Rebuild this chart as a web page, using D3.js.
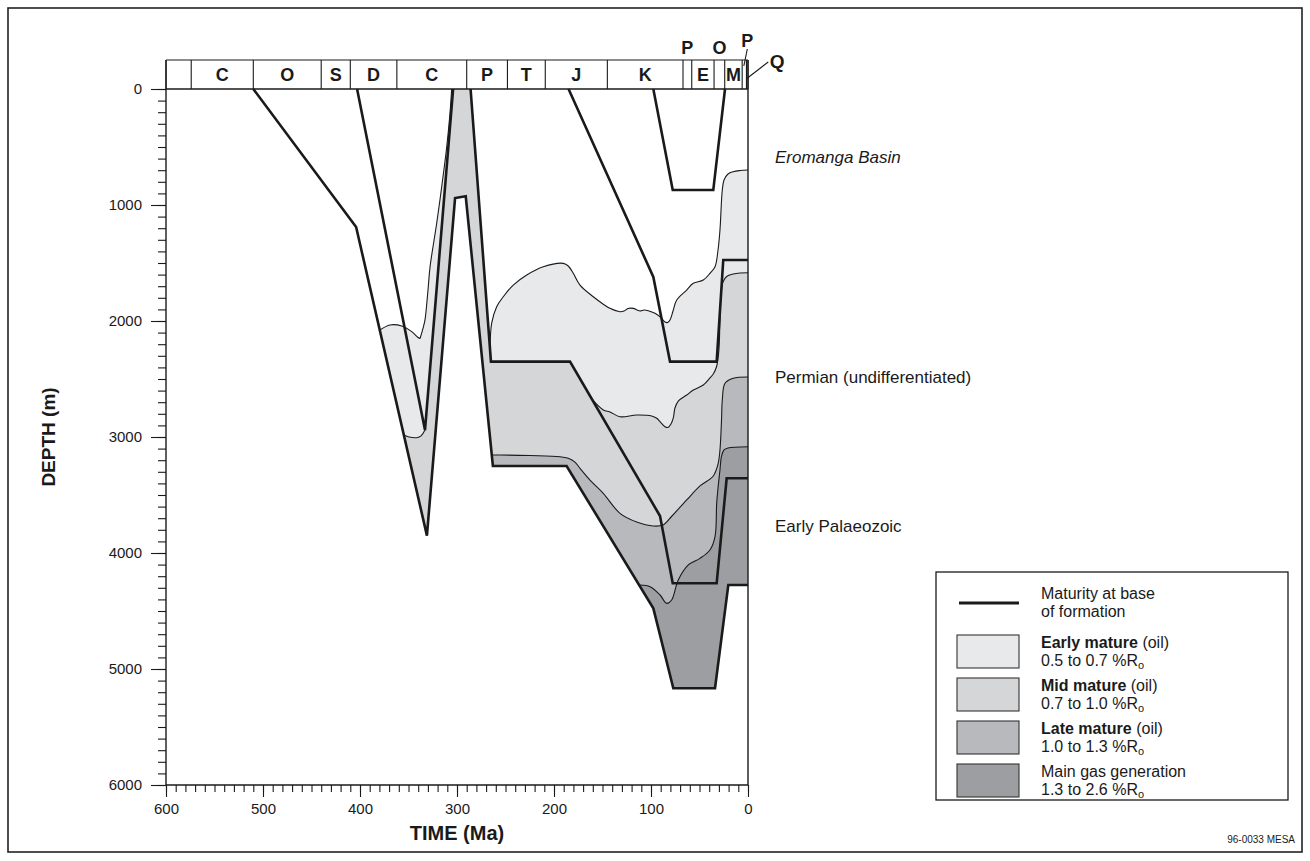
<!DOCTYPE html>
<html><head><meta charset="utf-8">
<script src="https://cdn.jsdelivr.net/npm/d3@7"></script>
<style>
body{margin:0;background:#fff}
svg{display:block}
text{font-family:"Liberation Sans",Arial,Helvetica,sans-serif;fill:#1a1a1a}
</style>
</head><body>
<svg id="c" width="1310" height="861"></svg>
<script>
// ---------------- DATA ----------------
// Geological time scale (Ma) boundaries and labels
const periodBounds = [600,574,510,440,410,362,290,248,209,145,67,58,35,24,6,1.6,0];
const periodInBox  = ["","C","O","S","D","C","P","T","J","K","","E","","M","",""];
const periodAbove  = [[10,"P"],[12,"O"],[14,"P"],[15,"Q"]];

// Axis ticks
const xMajorTicks = [600,500,400,300,200,100,0];
const xMinorTicks = d3.range(0,601,10);
const yMajorTicks = [0,1000,2000,3000,4000,5000,6000];
const yMinorTicks = d3.range(0,6001,100);

// Burial curves: [time Ma, depth m] - thick lines "maturity at base of formation"
const earlyPalaeozoicBase = [[510,0],[404,1190],[331,3850],[302,940],[291,925],[263,3250],[187,3250],[97.6,4477],[77,5166],[34,5166],[20.3,4276],[0,4276]];
const devonianBase = [[403,0],[333,2940],[304,0]];
const permianBase  = [[286,0],[265,2350],[183.5,2350],[90.7,3681],[77.6,4261],[32.3,4261],[22,3356],[0,3356]];
const eromangaBase = [[185,0],[97.6,1620],[80.4,2350],[32.3,2350],[25.5,1474],[0,1474]];
const cretaceousUnit = [[97.6,0],[77.6,871],[35.8,871],[23.7,0]];

// Maturity isolines (%Ro) [time Ma, depth m]
const iso05TroughA = [[379.6,2078],[369,2034],[357,2043],[346.7,2092],[340.5,2140],[338.1,2151]];
const iso05TroughB = [[338.1,2151],[334.7,2052],[333,1991],[329.9,1733],[327.8,1534],[320.9,1155],[315.8,845],[310.6,500],[307.2,207],[305.5,0]];
const iso07Trough  = [[354.8,2983],[349.5,3000],[341.5,3006],[337,2990],[333,2940]];
const iso05Basin = [[266,2250],[264.2,2017],[259.1,1877],[252.3,1791],[242,1690],[228.1,1603],[211,1532],[190.4,1503],[185.3,1526],[180.1,1589],[173.2,1690],[159.5,1791],[149.5,1853],[142.3,1891],[132,1920],[127.8,1914],[123.7,1892],[118.2,1891],[114.4,1905],[111.3,1914],[107.2,1905],[102.8,1911],[95.9,1934],[89,1977],[85.6,2009],[83,2013],[80.4,1991],[77.3,1914],[73.5,1819],[63.2,1733],[56.4,1675],[46.1,1647],[39.2,1589],[34,1532],[30.9,1388],[28.9,1216],[26.5,871],[24.7,784],[20.6,733],[15.2,713],[8.2,703],[0,698]];
const iso07Basin = [[161.1,2672],[149.2,2767],[142.3,2784],[132,2825],[114.7,2810],[99.3,2819],[94.1,2839],[90.7,2868],[85.6,2911],[82.5,2918],[79.4,2888],[77,2836],[75.3,2750],[71.9,2690],[63.2,2638],[56.4,2595],[46.1,2552],[39.2,2491],[35.8,2457],[32.3,2390],[30,2250],[28.9,1991],[27.8,1776],[25.8,1664],[22,1616],[15.2,1595],[8.2,1586],[0,1584]];
const iso10 = [[264.3,3155],[255.7,3155],[224.7,3160],[193.8,3170],[185.3,3184],[178.4,3216],[173.2,3270],[162.9,3371],[149.2,3485],[132,3658],[114.7,3733],[97.6,3767],[87.6,3759],[78.4,3681],[63.2,3543],[49.5,3422],[35.8,3336],[30.9,3233],[28.9,3112],[27.3,2853],[26.5,2681],[23.7,2537],[15.2,2494],[0,2483]];
const iso13 = [[111.1,4276],[101,4291],[90.7,4362],[83.8,4434],[78.7,4405],[71.9,4233],[61.5,4103],[49.5,4046],[39.2,3974],[34,3859],[32.3,3572],[30.9,3440],[28.9,3284],[27.3,3164],[24.7,3112],[20.6,3095],[0,3084]];

// Unit labels and legend
const unitLabels = [["Eromanga Basin",true],["Permian (undifferentiated)",false],["Early Palaeozoic",false]];
const legendLineLabel = ["Maturity at base","of formation"];
const legendZones = [["Early mature"," (oil)","0.5 to 0.7 %R"],["Mid mature"," (oil)","0.7 to 1.0 %R"],["Late mature"," (oil)","1.0 to 1.3 %R"],["","Main gas generation","1.3 to 2.6 %R"]];
const zoneColors = ["#e8e9eb","#d5d6d8","#b8b9bc","#9d9ea1"];

// ---------------- DRAW ----------------
const svg = d3.select("#c");
const X0=166, X1=748, Y0=89, Y1=785, BAR=60;
const x = d3.scaleLinear().domain([600,0]).range([X0,X1]);
const y = d3.scaleLinear().domain([0,6000]).range([Y0,Y1]);
const lin = d3.line().x(d=>x(d[0])).y(d=>y(d[1]));
const crv = d3.line().x(d=>x(d[0])).y(d=>y(d[1])).curve(d3.curveCatmullRom.alpha(0.5));
const cont = s => "L" + s.slice(1);
const rev = a => a.slice().reverse();
const EP = earlyPalaeozoicBase;

// outer border
svg.append("rect").attr("x",8).attr("y",8).attr("width",1294).attr("height",844)
  .attr("fill","none").attr("stroke","#222").attr("stroke-width",1.6);

const g = svg.append("g");

// fills
const fillLight1 = crv(iso05TroughA) + cont(crv(iso05TroughB)) + cont(lin([devonianBase[2], devonianBase[1]])) + cont(crv(rev(iso07Trough))) + "Z";
const fillLight2 = crv(iso05Basin) + cont(crv(rev(iso07Basin))) + cont(lin([permianBase[2], permianBase[1]])) + "Z";
const fillMid = lin([iso07Trough[0], ...EP.slice(2)]) + cont(crv(rev(iso07Basin))) +
  cont(lin([permianBase[2], permianBase[1], permianBase[0], devonianBase[2], devonianBase[1]])) + cont(crv(rev(iso07Trough))) + "Z";
const fillLate = crv(iso10) + cont(lin(rev(EP.slice(5)))) + "Z";
const fillGas = crv(iso13) + cont(lin(rev(EP.slice(7)))) + "Z";

[[fillLight1,0],[fillLight2,0],[fillMid,1],[fillLate,2],[fillGas,3]].forEach(([d,i])=>{
  g.append("path").attr("d",d).attr("fill",zoneColors[i]).attr("stroke","none");
});

// isolines
[iso05TroughA, iso05TroughB, iso07Trough, iso05Basin, iso07Basin, iso10, iso13].forEach(a=>{
  g.append("path").attr("d",crv(a)).attr("fill","none").attr("stroke","#1a1a1a").attr("stroke-width",1.1);
});

// thick burial lines
[earlyPalaeozoicBase, devonianBase, permianBase, eromangaBase, cretaceousUnit].forEach(a=>{
  g.append("path").attr("d",lin(a)).attr("fill","none").attr("stroke","#1a1a1a")
   .attr("stroke-width",2.6).attr("stroke-linejoin","miter").attr("stroke-miterlimit",3);
});

// frame
const fr = svg.append("g").attr("stroke","#1a1a1a").attr("fill","none");
fr.append("line").attr("x1",X0).attr("x2",X0).attr("y1",BAR).attr("y2",Y1).attr("stroke-width",1.4);
fr.append("line").attr("x1",X1).attr("x2",X1).attr("y1",BAR).attr("y2",Y1).attr("stroke-width",1.4);
fr.append("line").attr("x1",X0).attr("x2",X1).attr("y1",Y1).attr("y2",Y1).attr("stroke-width",1.4);
fr.append("line").attr("x1",X0).attr("x2",X1).attr("y1",BAR).attr("y2",BAR).attr("stroke-width",1.2);
fr.append("line").attr("x1",X0).attr("x2",X1).attr("y1",Y0).attr("y2",Y0).attr("stroke-width",1.4);

// period bar
periodBounds.forEach(b=>{
  fr.append("line").attr("x1",x(b)).attr("x2",x(b)).attr("y1",BAR).attr("y2",Y0).attr("stroke-width",1.1);
});
periodInBox.forEach((t,i)=>{
  if(!t) return;
  svg.append("text").attr("x",(x(periodBounds[i])+x(periodBounds[i+1]))/2).attr("y",81)
    .attr("text-anchor","middle").attr("font-size",18).attr("font-weight","bold").text(t);
});
periodAbove.forEach(([i,t])=>{
  const mx = (x(periodBounds[i])+x(periodBounds[i+1]))/2;
  if(i===10||i===12){
    svg.append("text").attr("x",mx).attr("y",54).attr("text-anchor","middle").attr("font-size",18).attr("font-weight","bold").text(t);
  } else if(i===14){
    svg.append("text").attr("x",mx+3).attr("y",47).attr("text-anchor","middle").attr("font-size",18).attr("font-weight","bold").text(t);
    fr.append("line").attr("x1",mx+3).attr("y1",49).attr("x2",mx-0.5).attr("y2",66).attr("stroke-width",1.1);
  } else {
    svg.append("text").attr("x",mx+30).attr("y",68).attr("text-anchor","middle").attr("font-size",19).attr("font-weight","bold").text(t);
    fr.append("line").attr("x1",mx+21).attr("y1",62).attr("x2",mx-1).attr("y2",79).attr("stroke-width",1.1);
  }
});

// axes
function styleAxis(sel){ sel.select(".domain").remove(); sel.selectAll("line").attr("stroke","#1a1a1a").attr("stroke-width",1.1);
  sel.selectAll("text").attr("font-size",15).attr("font-family","'Liberation Sans',Arial,sans-serif").attr("fill","#1a1a1a"); }
svg.append("g").attr("transform",`translate(${X0},0)`).call(d3.axisLeft(y).tickValues(yMinorTicks).tickSize(8).tickFormat("")).call(styleAxis);
svg.append("g").attr("transform",`translate(${X0},0)`).call(d3.axisLeft(y).tickValues(yMajorTicks).tickSize(15).tickPadding(9).tickFormat(d3.format("d"))).call(styleAxis);
svg.append("g").attr("transform",`translate(0,${Y1})`).call(d3.axisBottom(x).tickValues(xMinorTicks).tickSize(7).tickFormat("")).call(styleAxis);
svg.append("g").attr("transform",`translate(0,${Y1})`).call(d3.axisBottom(x).tickValues(xMajorTicks).tickSize(12).tickPadding(6).tickFormat(d3.format("d"))).call(styleAxis);

svg.append("text").attr("x",(X0+X1)/2).attr("y",840).attr("text-anchor","middle").attr("font-size",20).attr("font-weight","bold").text("TIME (Ma)");
svg.append("text").attr("transform",`translate(55,${(Y0+Y1)/2}) rotate(-90)`).attr("text-anchor","middle").attr("font-size",19).attr("font-weight","bold").text("DEPTH (m)");

// unit labels
const unitY = [163,383,532];
unitLabels.forEach(([t,it],i)=>{
  svg.append("text").attr("x",775).attr("y",unitY[i]).attr("font-size",17).attr("font-style",it?"italic":"normal").text(t);
});

// legend
const L = svg.append("g");
L.append("rect").attr("x",936).attr("y",572).attr("width",352).attr("height",228).attr("fill","#fff").attr("stroke","#1a1a1a").attr("stroke-width",1.3);
L.append("line").attr("x1",959).attr("x2",1019).attr("y1",603).attr("y2",603).attr("stroke","#1a1a1a").attr("stroke-width",3);
const LF = 16, LS = 18;
L.append("text").attr("x",1041).attr("y",599).attr("font-size",LF).text(legendLineLabel[0]);
L.append("text").attr("x",1041).attr("y",599+LS).attr("font-size",LF).text(legendLineLabel[1]);
legendZones.forEach(([b,r,rng],i)=>{
  const top = 635 + i*43;
  L.append("rect").attr("x",957).attr("y",top).attr("width",62).attr("height",33).attr("fill",zoneColors[i]).attr("stroke","#333").attr("stroke-width",1.1);
  const t1 = L.append("text").attr("x",1041).attr("y",top+13).attr("font-size",LF);
  if(b) t1.append("tspan").attr("font-weight","bold").text(b);
  t1.append("tspan").text(r);
  const t2 = L.append("text").attr("x",1041).attr("y",top+13+LS).attr("font-size",LF);
  t2.append("tspan").text(rng);
  t2.append("tspan").attr("font-size",11).attr("dy",3).text("o");
});

svg.append("text").attr("x",1295).attr("y",843).attr("text-anchor","end").attr("font-size",10).text("96-0033 MESA");
</script>
</body></html>
